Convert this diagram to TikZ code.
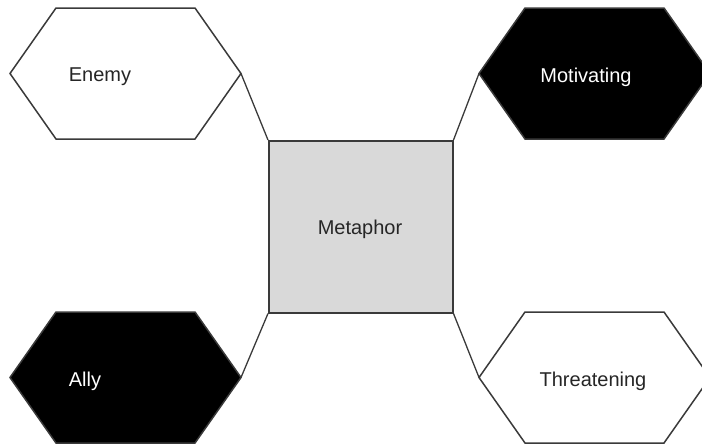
\documentclass[tikz,border=0pt]{standalone}
\usepackage{fontspec}
\setmainfont{Liberation Sans}
\definecolor{edge}{HTML}{3A3A3A}
\definecolor{boxgray}{HTML}{D9D9D9}
\tikzset{
  hexa/.pic={
    \draw[pic actions] (0,65.5) -- (46,0) -- (185,0) -- (231,65.5) -- (185,131) -- (46,131) -- cycle;
    \coordinate (-W) at (0,65.5);
    \coordinate (-E) at (231,65.5);
  },
  hexline/.style={draw=edge, line width=1.5pt, line join=miter},
  label/.style={font=\fontsize{20}{23}\selectfont, inner sep=0pt},
  conn/.style={draw=edge, line width=1.3pt},
}
\begin{document}
\begin{tikzpicture}[x=1pt, y=-1pt]
\useasboundingbox (0,0) rectangle (702,445);
% central square
\node[draw=edge, line width=1.5pt, fill=boxgray, minimum width=184pt, minimum height=172pt, inner sep=0pt, anchor=north west] (meta) at (268,140) {};
\node[label, text=black!85] (metat) at (360,229) {Metaphor};
% hexagons
\pic[hexline, fill=white] (enemy) at (10,8) {hexa};
\pic[hexline, fill=black] (motiv) at (479,8) {hexa};
\pic[hexline, fill=black] (ally) at (10,312) {hexa};
\pic[hexline, fill=white] (threat) at (479,312) {hexa};
% labels
\node[label, text=black!85] (enemyt) at (100,77) {Enemy};
\node[label, text=white] (motivt) at (586,77) {Motivating};
\node[label, text=white] (allyt) at (85,381) {Ally};
\node[label, text=black!85] (threatt) at (593,381) {Threatening};
% connectors
\draw[conn] (enemy-E) -- (meta.north west);
\draw[conn] (motiv-W) -- (meta.north east);
\draw[conn] (ally-E) -- (meta.south west);
\draw[conn] (threat-W) -- (meta.south east);
\end{tikzpicture}
\end{document}
